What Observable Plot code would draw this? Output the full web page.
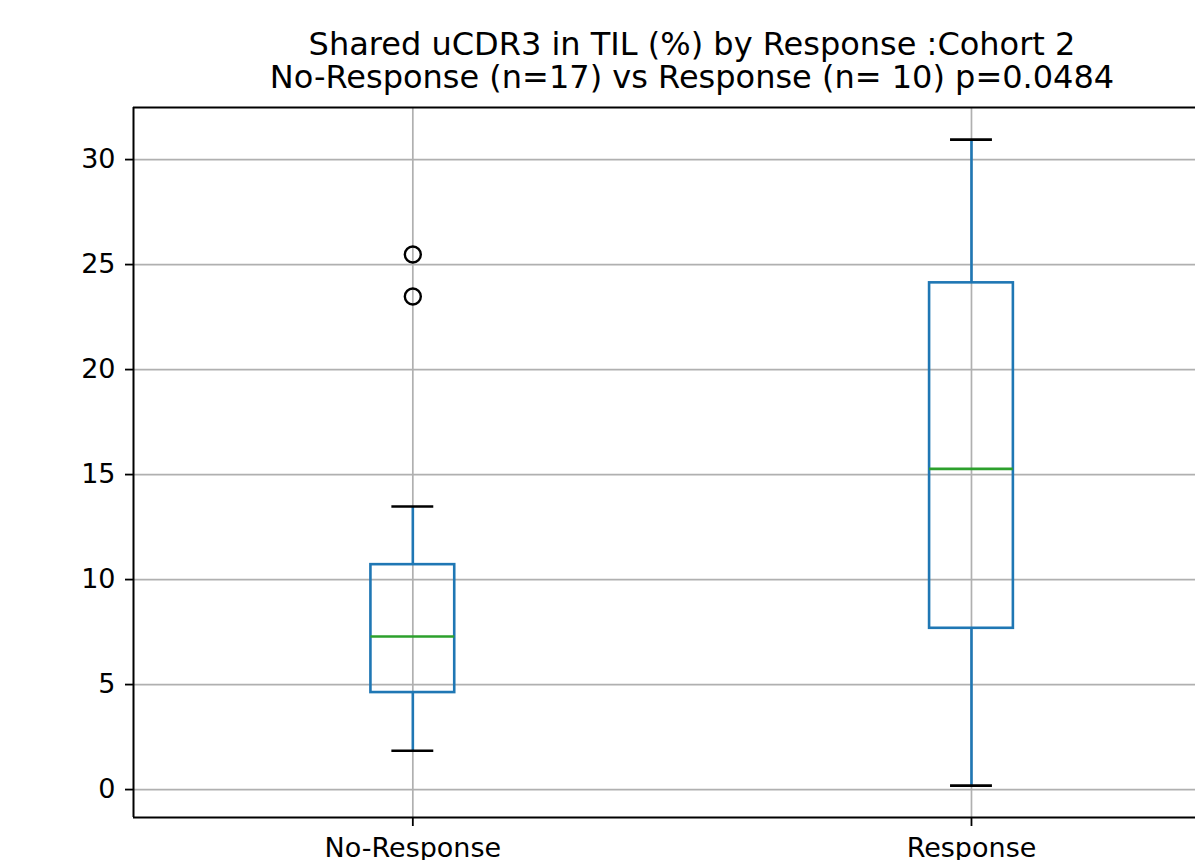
<!DOCTYPE html>
<html>
<head>
<meta charset="utf-8">
<script src="https://cdn.jsdelivr.net/npm/d3@7"></script>
<script src="https://cdn.jsdelivr.net/npm/@observablehq/plot@0.6"></script>
<style>
  html, body { margin: 0; padding: 0; background: #fff; overflow: hidden; }
  #wrap { position: relative; width: 1195px; height: 860px; }
  .title {
    position: absolute; left: 0; width: 1195px; height: 33px; box-sizing: border-box;
    padding-left: 189px; text-align: center;
    font-family: "DejaVu Sans", sans-serif; font-size: 32px; line-height: 33px; color: #000;
    white-space: nowrap;
  }
  #t1 { top: 28px; }
  #t2 { top: 61px; }
  #chart { position: absolute; left: 0; top: 0; }
</style>
</head>
<body>
<div id="wrap">
  <div id="chart"></div>
  <div class="title" id="t1">Shared uCDR3 in TIL (%) by Response :Cohort 2</div>
  <div class="title" id="t2">No-Response (n=17) vs Response (n= 10) p=0.0484</div>
</div>
<script>
// ---- data ----
const categories = ["No-Response", "Response"];
const positions = [1, 2];
const whiskerLow = [1.85, 0.19];
const q1 = [4.62, 7.68];
const median = [7.29, 15.27];
const q3 = [10.71, 24.13];
const whiskerHigh = [13.48, 30.95];
const outlierGroup = ["No-Response", "No-Response"];
const outlierValue = [25.48, 23.48];
const yTicks = [0, 5, 10, 15, 20, 25, 30];

// ---- tables built from the arrays ----
const boxes = categories.map((c, i) => ({
  cat: c, pos: positions[i], lo: whiskerLow[i], q1: q1[i], med: median[i], q3: q3[i], hi: whiskerHigh[i]
}));
const outliers = outlierGroup.map((g, i) => ({ pos: positions[categories.indexOf(g)], value: outlierValue[i] }));

const boxHalf = 0.075;
const capHalf = 0.0375;
const xDomain = [0.5, 2.401];
const yDomain = [-1.33, 32.48];

const blue = "#1f77b4", green = "#2ca02c", grid = "#b0b0b0";

const chart = Plot.plot({
  width: 1195,
  height: 860,
  marginTop: 107,
  marginBottom: 43,
  marginLeft: 133,
  marginRight: 0,
  style: { fontFamily: "DejaVu Sans, sans-serif", fontSize: "27px", color: "#000", background: "#fff", overflow: "visible" },
  x: { type: "linear", domain: xDomain },
  y: { domain: yDomain },
  marks: [
    Plot.gridY(yTicks, { stroke: grid, strokeOpacity: 1, strokeWidth: 1.7 }),
    Plot.gridX(positions, { stroke: grid, strokeOpacity: 1, strokeWidth: 1.7 }),
    // whiskers
    Plot.ruleX(boxes, { x: "pos", y1: "q3", y2: "hi", stroke: blue, strokeWidth: 2.6 }),
    Plot.ruleX(boxes, { x: "pos", y1: "lo", y2: "q1", stroke: blue, strokeWidth: 2.6 }),
    // caps
    Plot.ruleY(boxes, { y: "hi", x1: d => d.pos - capHalf, x2: d => d.pos + capHalf, stroke: "#000", strokeWidth: 2.6 }),
    Plot.ruleY(boxes, { y: "lo", x1: d => d.pos - capHalf, x2: d => d.pos + capHalf, stroke: "#000", strokeWidth: 2.6 }),
    // boxes
    Plot.rect(boxes, { x1: d => d.pos - boxHalf, x2: d => d.pos + boxHalf, y1: "q1", y2: "q3", fill: "none", stroke: blue, strokeWidth: 2.6 }),
    // medians
    Plot.ruleY(boxes, { y: "med", x1: d => d.pos - boxHalf, x2: d => d.pos + boxHalf, stroke: green, strokeWidth: 2.6 }),
    // outliers
    Plot.dot(outliers, { x: "pos", y: "value", r: 8, stroke: "#000", fill: "none", strokeWidth: 2.4 }),
    // frame (left, top, bottom; right edge is beyond the picture)
    Plot.ruleX([xDomain[0]], { stroke: "#000", strokeWidth: 2 }),
    Plot.ruleY([yDomain[0], yDomain[1]], { stroke: "#000", strokeWidth: 2 }),
    // axes
    Plot.axisY({ ticks: yTicks, tickSize: 8, tickPadding: 10, stroke: "#000", strokeWidth: 1.8, fontSize: 27, label: null }),
    Plot.axisX({ ticks: positions, tickFormat: d => categories[positions.indexOf(d)], tickSize: 9, tickPadding: 11, stroke: "#000", strokeWidth: 1.8, fontSize: 27, label: null })
  ]
});
document.getElementById("chart").append(chart);
</script>
</body>
</html>
